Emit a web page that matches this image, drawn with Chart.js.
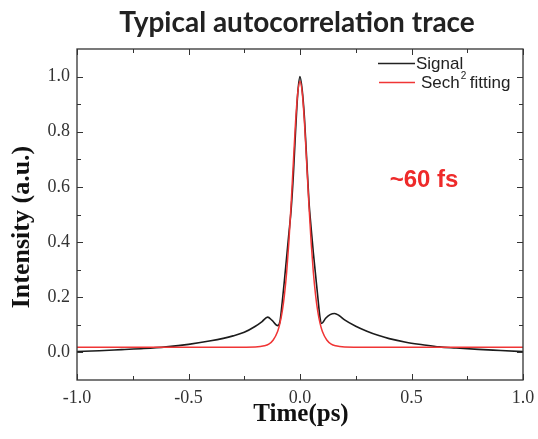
<!DOCTYPE html>
<html>
<head>
<meta charset="utf-8">
<script src="https://cdn.jsdelivr.net/npm/chart.js@4.4.0/dist/chart.umd.min.js"></script>
<style>
  html, body { margin: 0; padding: 0; background: #fff; }
</style>
</head>
<body>
<canvas id="chart" width="538" height="439"></canvas>
<script>
        // measured autocorrelation (black)
        const signalTime = [-1.0, -0.9, -0.8, -0.7, -0.6, -0.5, -0.4, -0.3, -0.25, -0.2, -0.17, -0.145, -0.125, -0.10,
            -0.09, -0.08, -0.07, -0.06, -0.05, -0.04, -0.03, -0.02, -0.01, 0,
            0.01, 0.02, 0.03, 0.04, 0.05, 0.06, 0.07, 0.08, 0.09, 0.097,
            0.115, 0.135, 0.155, 0.175, 0.2, 0.25, 0.3, 0.35, 0.4, 0.475, 0.55, 0.625, 0.7, 0.8, 0.9, 1.0];
        const signalValue = [0.003, 0.006, 0.010, 0.014, 0.020, 0.029, 0.042, 0.060, 0.073, 0.095, 0.112, 0.128, 0.116, 0.097,
            0.112, 0.180, 0.260, 0.345, 0.430, 0.515, 0.640, 0.800, 0.940, 1.0,
            0.950, 0.850, 0.700, 0.550, 0.450, 0.360, 0.280, 0.200, 0.125, 0.105,
            0.124, 0.137, 0.141, 0.134, 0.118, 0.095, 0.077, 0.062, 0.050, 0.037, 0.028, 0.020, 0.016, 0.011, 0.007, 0.003];

        // sech^2 fit (red)
        const fitTime = [-1.0, -0.5, -0.3, -0.2, -0.16, -0.14, -0.12, -0.10, -0.09, -0.08, -0.07, -0.06, -0.05, -0.04, -0.03, -0.02, -0.01, 0,
            0.01, 0.02, 0.03, 0.04, 0.05, 0.06, 0.07, 0.08, 0.09, 0.10, 0.12, 0.14, 0.16, 0.2, 0.3, 0.5, 1.0];
        const fitValue = [0.019, 0.019, 0.019, 0.020, 0.024, 0.030, 0.045, 0.077, 0.105, 0.147, 0.207, 0.289, 0.399, 0.535, 0.686, 0.834, 0.942, 0.983,
            0.942, 0.834, 0.686, 0.535, 0.399, 0.289, 0.207, 0.147, 0.105, 0.077, 0.045, 0.030, 0.024, 0.020, 0.019, 0.019, 0.019];

        const xMajor = [-1.0, -0.5, 0.0, 0.5, 1.0];
        const xMinor = [-0.75, -0.25, 0.25, 0.75];
        const yMajor = [0.0, 0.2, 0.4, 0.6, 0.8, 1.0];
        const yMinor = [0.1, 0.3, 0.5, 0.7, 0.9];

        const serif = '"Liberation Serif", "Times New Roman", serif';
        const sans = '"Liberation Sans", Arial, sans-serif';

        const toPoints = (xs, ys) => xs.map((x, i) => ({ x: x, y: ys[i] }));

        // frame, inward ticks, legend and labels
        const decorPlugin = {
            id: 'decor',
            afterDraw(chart) {
                const ctx = chart.ctx;
                const a = chart.chartArea;
                const xs = chart.scales.x, ys = chart.scales.y;
                ctx.save();
                ctx.strokeStyle = '#333';
                ctx.lineWidth = 1.3;
                ctx.strokeRect(a.left, a.top, a.right - a.left, a.bottom - a.top);

                ctx.lineWidth = 1;
                const tick = (vals, len) => {
                    vals.forEach(v => {
                        const px = Math.round(xs.getPixelForValue(v)) + 0.5;
                        ctx.beginPath();
                        ctx.moveTo(px, a.bottom); ctx.lineTo(px, a.bottom - len);
                        ctx.moveTo(px, a.top); ctx.lineTo(px, a.top + len);
                        ctx.stroke();
                    });
                };
                const tickY = (vals, len) => {
                    vals.forEach(v => {
                        const py = Math.round(ys.getPixelForValue(v)) + 0.5;
                        ctx.beginPath();
                        ctx.moveTo(a.left, py); ctx.lineTo(a.left + len, py);
                        ctx.moveTo(a.right, py); ctx.lineTo(a.right - len, py);
                        ctx.stroke();
                    });
                };
                tick(xMajor, 6); tick(xMinor, 4);
                tickY(yMajor, 6); tickY(yMinor, 4);

                // legend
                ctx.lineWidth = 1.5;
                ctx.strokeStyle = '#222';
                ctx.beginPath(); ctx.moveTo(378, 63.5); ctx.lineTo(415, 63.5); ctx.stroke();
                ctx.strokeStyle = '#f03535';
                ctx.beginPath(); ctx.moveTo(379, 82.5); ctx.lineTo(415, 82.5); ctx.stroke();
                ctx.fillStyle = '#222';
                ctx.font = '17px ' + sans;
                ctx.textBaseline = 'middle';
                ctx.textAlign = 'left';
                ctx.fillText('Signal', 416, 64);
                ctx.fillText('Sech', 421, 83);
                let w = ctx.measureText('Sech').width;
                ctx.font = '10px ' + sans;
                ctx.fillText('2', 421 + w + 1, 76);
                ctx.font = '17px ' + sans;
                ctx.fillText('fitting', 421 + w + 10, 83);

                // pulse width note
                ctx.fillStyle = '#ee2a2a';
                ctx.font = 'bold 24px ' + sans;
                ctx.textAlign = 'center';
                ctx.fillText('~60 fs', 424, 180);

                // title
                ctx.fillStyle = '#222';
                ctx.font = 'bold 28px Lato, sans-serif';
                ctx.textBaseline = 'alphabetic';
                ctx.fillText('Typical autocorrelation trace', 297, 32);

                // axis titles
                ctx.fillStyle = '#111';
                ctx.font = 'bold 25px ' + serif;
                ctx.textBaseline = 'middle';
                ctx.fillText('Time(ps)', 301, 415);
                ctx.font = 'bold 26px ' + serif;
                ctx.translate(22, 227);
                ctx.rotate(-Math.PI / 2);
                ctx.fillText('Intensity (a.u.)', 0, 0);
                ctx.restore();
            }
        };

        new Chart(document.getElementById('chart').getContext('2d'), {
            type: 'line',
            data: {
                datasets: [{
                    label: 'Signal',
                    data: toPoints(signalTime, signalValue),
                    borderColor: '#1c1c1c',
                    borderWidth: 1.6,
                    pointRadius: 0,
                    cubicInterpolationMode: 'monotone',
                    order: 2
                }, {
                    label: 'Sech² fitting',
                    data: toPoints(fitTime, fitValue),
                    borderColor: '#f03535',
                    borderWidth: 1.5,
                    pointRadius: 0,
                    cubicInterpolationMode: 'monotone',
                    order: 1
                }]
            },
            options: {
                responsive: false,
                animation: false,
                layout: { padding: { top: 49, right: 15, left: 0, bottom: 0 } },
                plugins: { legend: { display: false }, title: { display: false }, tooltip: { enabled: false } },
                scales: {
                    x: {
                        type: 'linear', min: -1, max: 1,
                        grid: { display: false, drawTicks: false },
                        border: { display: false },
                        afterBuildTicks: s => { s.ticks = xMajor.map(v => ({ value: v })); },
                        afterFit: s => { s.height = 59; s.paddingLeft = 0; s.paddingRight = 0; },
                        ticks: {
                            padding: 7, color: '#333', maxRotation: 0,
                            font: { family: serif, size: 18 },
                            callback: v => v.toFixed(1)
                        }
                    },
                    y: {
                        min: -0.1, max: 1.1,
                        grid: { display: false, drawTicks: false },
                        border: { display: false },
                        afterBuildTicks: s => { s.ticks = yMajor.map(v => ({ value: v })); },
                        afterFit: s => { s.width = 77; s.paddingTop = 0; s.paddingBottom = 0; },
                        ticks: {
                            padding: 7, color: '#333',
                            font: { family: serif, size: 18 },
                            callback: v => v.toFixed(1)
                        }
                    }
                }
            },
            plugins: [decorPlugin]
        });
</script>
</body>
</html>
